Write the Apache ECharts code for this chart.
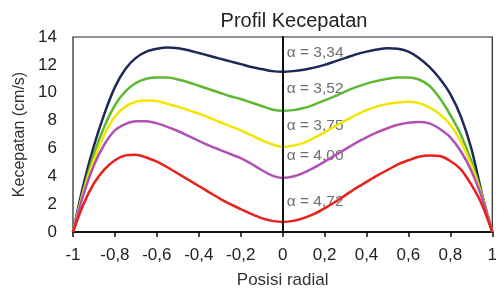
<!DOCTYPE html>
<html>
<head>
<meta charset="utf-8">
<script src="https://cdn.jsdelivr.net/npm/echarts@6/dist/echarts.min.js"></script>
<style>
  html, body { margin: 0; padding: 0; background: #fff; }
  #chart { width: 500px; height: 294px; }
</style>
</head>
<body>
<div id="chart"></div>
<script>
// posisi radial, step 0.05
var posisi = []
for (var i = 0; i <= 40; i++) posisi.push(+(-1 + i * 0.05).toFixed(2))

var alpha334 = [0, 3.4, 6.2, 8.5, 10.4, 11.7, 12.5, 12.95, 13.15, 13.25, 13.2, 13.05, 12.85, 12.65, 12.45, 12.25, 12.05, 11.85, 11.7, 11.55, 11.5,
  11.55, 11.65, 11.8, 12.0, 12.25, 12.5, 12.75, 12.95, 13.1, 13.2, 13.15, 12.95, 12.5, 11.85, 11.0, 9.9, 8.3, 6.0, 2.8, 0]
var alpha352 = [0, 3.0, 5.6, 7.6, 9.1, 10.1, 10.7, 11.0, 11.1, 11.1, 10.95, 10.75, 10.5, 10.25, 10.0, 9.75, 9.55, 9.3, 9.05, 8.8, 8.7,
  8.75, 8.9, 9.15, 9.45, 9.75, 10.1, 10.4, 10.65, 10.85, 11.0, 11.1, 11.1, 10.95, 10.5, 9.6, 8.4, 7.0, 5.1, 2.7, 0]
var alpha375 = [0, 2.9, 5.2, 7.0, 8.3, 9.0, 9.35, 9.45, 9.4, 9.2, 9.0, 8.75, 8.5, 8.2, 7.9, 7.6, 7.3, 6.95, 6.6, 6.3, 6.1,
  6.2, 6.4, 6.75, 7.15, 7.6, 8.0, 8.4, 8.75, 9.0, 9.2, 9.3, 9.35, 9.25, 8.95, 8.45, 7.7, 6.5, 4.8, 2.6, 0]
var alpha400 = [0, 2.7, 4.8, 6.3, 7.3, 7.75, 7.95, 7.95, 7.8, 7.55, 7.25, 6.9, 6.55, 6.2, 5.9, 5.6, 5.3, 4.9, 4.45, 4.05, 3.88,
  3.98, 4.25, 4.62, 5.05, 5.5, 5.95, 6.4, 6.8, 7.15, 7.45, 7.7, 7.85, 7.9, 7.8, 7.4, 6.8, 5.8, 4.4, 2.5, 0]
var alpha472 = [0, 2.0, 3.5, 4.5, 5.15, 5.5, 5.55, 5.35, 5.05, 4.65, 4.2, 3.75, 3.3, 2.85, 2.4, 2.0, 1.65, 1.3, 1.0, 0.8, 0.72,
  0.8, 1.0, 1.3, 1.7, 2.15, 2.65, 3.15, 3.6, 4.05, 4.45, 4.85, 5.15, 5.4, 5.5, 5.45, 5.1, 4.5, 3.4, 2.0, 0]

var names = ['α = 3,34', 'α = 3,52', 'α = 3,75', 'α = 4,00', 'α = 4,72']
var colors = ['#1e2858', '#5db932', '#f3e500', '#b052b4', '#e8211d']
var labelY = [12.85, 10.3, 7.65, 5.5, 2.2]

var chart = echarts.init(document.getElementById('chart'))

function pair (ys) {
  return ys.map(function (v, i) { return [posisi[i], v] })
}
function comma (v) {
  return String(v).replace('.', ',')
}

var series = [alpha334, alpha352, alpha375, alpha400, alpha472].map(function (ys, k) {
  return {
    name: names[k],
    type: 'line',
    smooth: 0.3,
    symbol: 'none',
    lineStyle: { color: colors[k], width: 2.5 },
    data: pair(ys)
  }
})

series.push({
  type: 'scatter',
  symbolSize: 0,
  silent: true,
  label: {
    show: true,
    position: 'right',
    distance: 2,
    formatter: function (p) { return names[p.dataIndex] },
    color: '#4a4a4a',
    fontSize: 15.5,
    fontFamily: 'Liberation Sans, Arial'
  },
  data: labelY.map(function (y) { return [0.01, y] }),
  markLine: {
    silent: true,
    symbol: 'none',
    label: { show: false },
    lineStyle: { color: '#111', width: 1.8, type: 'solid' },
    data: [{ xAxis: 0 }]
  }
})

chart.setOption({
  backgroundColor: '#fff',
  animation: false,
  textStyle: { fontFamily: 'Liberation Sans, Arial' },
  title: {
    text: 'Profil Kecepatan',
    left: 289,
    textAlign: 'center',
    top: 6,
    textStyle: { fontSize: 20, fontWeight: 'normal', color: '#222' }
  },
  grid: {
    left: 73,
    right: 2,
    top: 37,
    bottom: 61,
    show: true,
    borderColor: '#222',
    borderWidth: 1.2
  },
  xAxis: {
    type: 'value',
    min: -1,
    max: 1,
    interval: 0.2,
    name: 'Posisi radial',
    nameLocation: 'middle',
    nameGap: 40,
    nameTextStyle: { fontSize: 17, color: '#333' },
    axisLine: { lineStyle: { color: '#111', width: 2 } },
    axisTick: { show: true, length: 5, lineStyle: { color: '#111', width: 1.5 } },
    axisLabel: {
      fontSize: 17,
      color: '#222',
      margin: 15,
      formatter: function (v) { return comma(+v.toFixed(1)) }
    },
    splitLine: { show: false }
  },
  yAxis: {
    type: 'value',
    min: 0,
    max: 14,
    interval: 2,
    name: 'Kecepatan (cm/s)',
    nameLocation: 'middle',
    nameGap: 43,
    nameTextStyle: { fontSize: 16, color: '#333' },
    axisLine: { show: true, lineStyle: { color: '#111', width: 2 } },
    axisTick: { show: false },
    axisLabel: { fontSize: 17, color: '#222', margin: 16 },
    splitLine: { show: false }
  },
  series: series
})
</script>
</body>
</html>
